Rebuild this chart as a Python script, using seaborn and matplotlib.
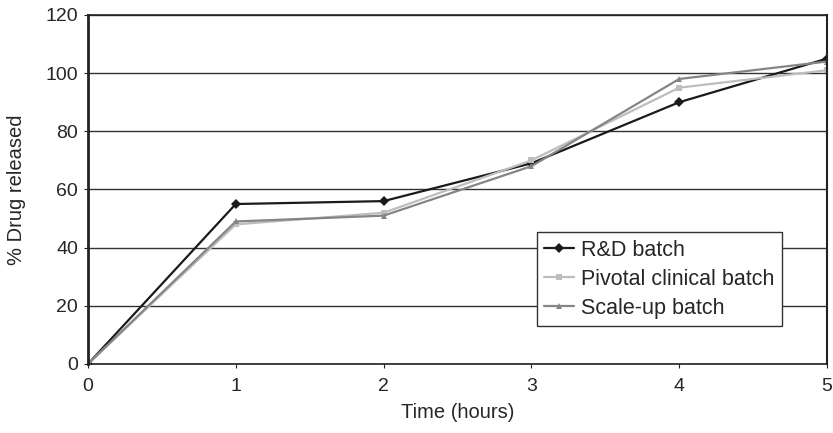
import seaborn as sns
import matplotlib.pyplot as plt
import pandas as pd
import numpy as np

hours = [0, 1, 2, 3, 4, 5]
rd_batch = [0, 55, 56, 69, 90, 105]
pivotal_batch = [0, 48, 52, 70, 95, 101]
scaleup_batch = [0, 49, 51, 68, 98, 104]
series_names = ["R&D batch", "Pivotal clinical batch", "Scale-up batch"]

df = pd.DataFrame({
    "hours": hours * 3,
    "value": rd_batch + pivotal_batch + scaleup_batch,
    "batch": np.repeat(series_names, len(hours)),
})

sns.set_style("white")
plt.rcParams["font.family"] = ["Liberation Sans", "DejaVu Sans"]

fig = plt.figure(figsize=(8.33, 4.33), dpi=100)
ax = fig.add_axes([0.1056, 0.1594, 0.8872, 0.806])

palette = {"R&D batch": "#1a1a1a", "Pivotal clinical batch": "#bdbdbd",
           "Scale-up batch": "#858585"}
markers = {"R&D batch": "D", "Pivotal clinical batch": "s", "Scale-up batch": "^"}
sns.lineplot(data=df, x="hours", y="value", hue="batch", style="batch",
             palette=palette, markers=markers, dashes=False, markersize=5,
             markeredgewidth=0, linewidth=1.6, ax=ax)

ax.set_xlim(0, 5)
ax.set_ylim(0, 120)
ax.set_xticks(hours)
ax.set_yticks(range(0, 121, 20))
ax.yaxis.grid(True, color="#333333", linewidth=1)
ax.set_axisbelow(True)
for s in ax.spines.values():
    s.set_color("#222222")
    s.set_linewidth(1.2)
ax.spines["right"].set_linewidth(1.5)
ax.spines["left"].set_linewidth(2)
ax.tick_params(axis="both", labelsize=14, length=3, color="#222222",
               direction="out", left=True, bottom=True, pad=4)
ax.tick_params(axis="x", pad=7)
ax.set_xlabel("Time (hours)", fontsize=14.5, labelpad=6)
ax.set_ylabel("% Drug released", fontsize=14.5, labelpad=14)

leg = ax.legend(loc="upper left", bbox_to_anchor=(0.607, 0.378), fontsize=15.5,
                frameon=True, fancybox=False, edgecolor="#333333",
                borderpad=0.35, labelspacing=0.38, handlelength=1.4,
                handletextpad=0.3, borderaxespad=0)
leg.get_frame().set_linewidth(1)
leg.get_frame().set_alpha(1)

fig.savefig("out.png", dpi=100)
